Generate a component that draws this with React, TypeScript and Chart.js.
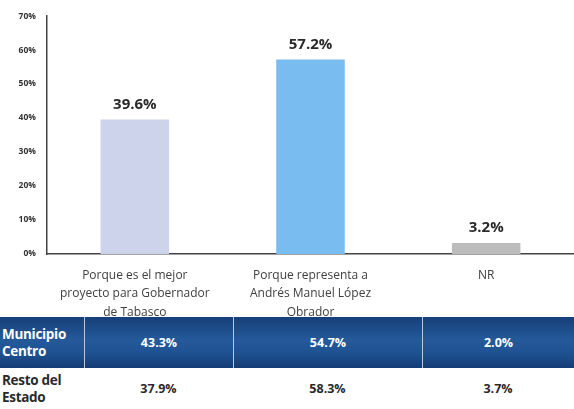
import React, { useEffect, useRef } from "react";
import { Chart, registerables } from "chart.js";

Chart.register(...registerables);

const categories: string[][] = [
  ["Porque es el mejor", "proyecto para Gobernador", "de Tabasco"],
  ["Porque representa a", "Andrés Manuel López", "Obrador"],
  ["NR"],
];
const values: number[] = [39.6, 57.2, 3.2];
const barColors: string[] = ["#ccd3ea", "#79bcf0", "#bcbcbc"];
const yTicks: number[] = [0, 10, 20, 30, 40, 50, 60, 70];

const rowLabels: string[] = ["Municipio Centro", "Resto del Estado"];
const municipioCentro: string[] = ["43.3%", "54.7%", "2.0%"];
const restoEstado: string[] = ["37.9%", "58.3%", "3.7%"];

const FONT = "'Open Sans', 'Liberation Sans', sans-serif";

const valueLabels = {
  id: "valueLabels",
  afterDatasetsDraw(chart: any) {
    const ctx = chart.ctx;
    const meta = chart.getDatasetMeta(0);
    ctx.save();
    ctx.font = `bold 15px ${FONT}`;
    ctx.fillStyle = "#2a2a2a";
    ctx.textAlign = "center";
    ctx.textBaseline = "middle";
    meta.data.forEach((bar: any, i: number) => {
      ctx.fillText(values[i].toFixed(1) + "%", bar.x, bar.y - 15);
    });
    ctx.restore();
  },
};

export default function App() {
  const ref = useRef<HTMLCanvasElement>(null);
  useEffect(() => {
    if (!ref.current) return;
    const chart = new Chart(ref.current, {
      type: "bar",
      data: {
        labels: categories,
        datasets: [
          {
            data: values,
            backgroundColor: barColors,
            barPercentage: 0.39,
            categoryPercentage: 1,
          },
        ],
      },
      options: {
        animation: false,
        responsive: false,
        maintainAspectRatio: false,
        layout: { padding: { top: 14, right: 0, left: 0, bottom: 0 } },
        plugins: { legend: { display: false }, tooltip: { enabled: false } },
        scales: {
          x: {
            grid: { display: false, drawTicks: false },
            border: { color: "#444", width: 1.5 },
            ticks: {
              color: "#404040",
              font: { family: FONT, size: 12, lineHeight: 1.55 },
              padding: 12,
              maxRotation: 0,
              autoSkip: false,
            },
            afterFit(scale: any) {
              scale.height = 409 - 254;
            },
          },
          y: {
            min: 0,
            max: 70,
            afterBuildTicks(scale: any) {
              scale.ticks = yTicks.map((v) => ({ value: v }));
            },
            grid: { display: false, drawTicks: false },
            border: { color: "#444", width: 1.5 },
            ticks: {
              color: "#333",
              font: { family: FONT, size: 8.5, weight: "bold" },
              padding: 11,
              callback: (v: any) => v + "%",
            },
            afterFit(scale: any) {
              scale.width = 47;
            },
          },
        },
      },
      plugins: [valueLabels],
    });
    return () => chart.destroy();
  }, []);

  const cellBase: React.CSSProperties = {
    position: "absolute",
    display: "flex",
    alignItems: "center",
    justifyContent: "center",
    fontFamily: FONT,
    fontWeight: 700,
    fontSize: 12.5,
  };
  const colX = [0, 84, 233, 422, 574];
  const headerBg = "linear-gradient(180deg, #163f78 0%, #245a9a 45%, #1f5293 70%, #143c74 100%)";

  return (
    <div style={{ position: "absolute", left: 0, top: 0, width: 574, height: 409, background: "#fff", overflow: "hidden" }}>
      <canvas ref={ref} width={574} height={409} style={{ position: "absolute", left: 0, top: 0 }} />
      {[0, 1].map((r) => {
        const top = r === 0 ? 317 : 368;
        const h = r === 0 ? 51 : 41;
        const vals = r === 0 ? municipioCentro : restoEstado;
        const color = r === 0 ? "#ffffff" : "#2a2a2a";
        return (
          <React.Fragment key={r}>
            <div
              style={{
                position: "absolute",
                left: 0,
                top,
                width: 574,
                height: h,
                background: r === 0 ? headerBg : "#ffffff",
              }}
            />
            <div
              style={{
                ...cellBase,
                left: 2,
                top,
                width: colX[1] - 2,
                height: h,
                justifyContent: "flex-start",
                color,
                fontSize: 13.5,
                lineHeight: "17px",
                letterSpacing: -0.3,
              }}
            >
              {rowLabels[r]}
            </div>
            {vals.map((v, i) => (
              <div
                key={i}
                style={{
                  ...cellBase,
                  left: colX[i + 1],
                  top,
                  width: colX[i + 2] - colX[i + 1],
                  height: h,
                  color,
                  borderLeft: r === 0 ? "1px solid #b8c8de" : "none",
                  boxSizing: "border-box",
                }}
              >
                {v}
              </div>
            ))}
          </React.Fragment>
        );
      })}
    </div>
  );
}
